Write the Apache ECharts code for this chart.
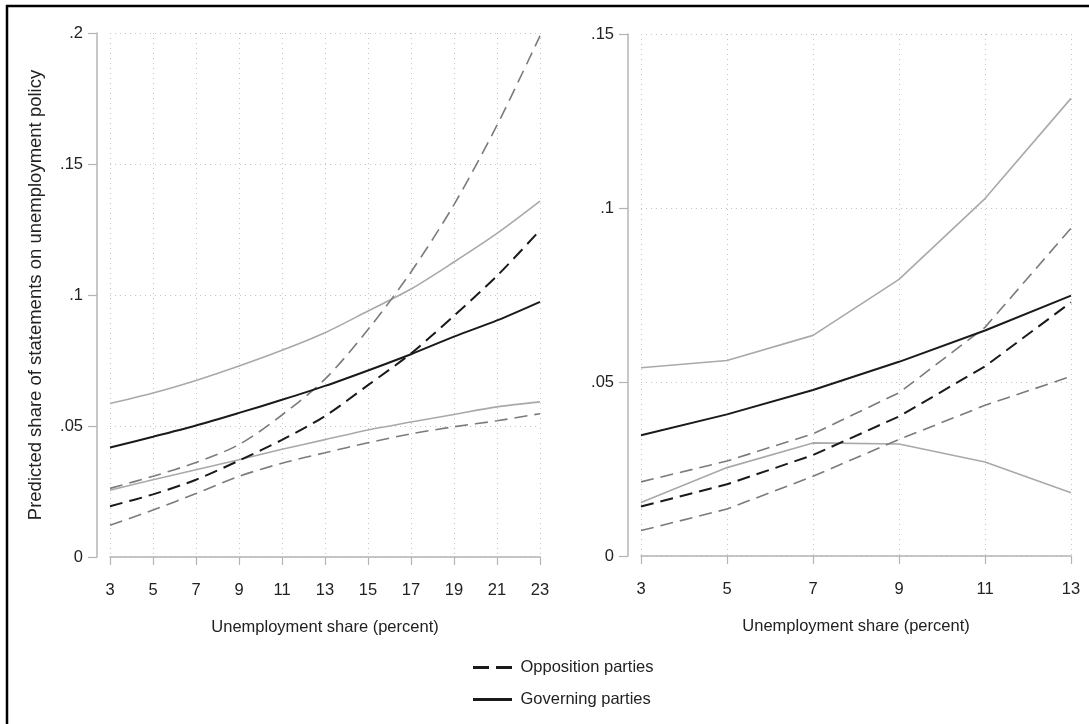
<!DOCTYPE html>
<html>
<head>
<meta charset="utf-8">
<script src="https://cdn.jsdelivr.net/npm/echarts@6/dist/echarts.min.js"></script>
<style>
html,body{margin:0;padding:0;background:#fff;}
#chart{width:1089px;height:724px;}
</style>
</head>
<body>
<div id="chart"></div>
<script>
// ---- Data ----
const xLeft = ['3','5','7','9','11','13','15','17','19','21','23'];
const xRight = ['3','5','7','9','11','13'];

const govEstL = [0.0418, 0.0459, 0.0502, 0.0550, 0.0600, 0.0653, 0.0712, 0.0774, 0.0841, 0.0903, 0.0974];
const govHiL  = [0.0586, 0.0626, 0.0674, 0.0729, 0.0789, 0.0856, 0.0939, 0.1023, 0.1126, 0.1235, 0.1358];
const govLoL  = [0.0255, 0.0295, 0.0333, 0.0371, 0.0411, 0.0448, 0.0485, 0.0515, 0.0544, 0.0573, 0.0592];
const oppEstL = [0.0194, 0.0239, 0.0295, 0.0368, 0.0447, 0.0538, 0.0656, 0.0777, 0.0921, 0.1073, 0.1247];
const oppHiL  = [0.0262, 0.0308, 0.0361, 0.0429, 0.0542, 0.0679, 0.0868, 0.1088, 0.1345, 0.1648, 0.1989];
const oppLoL  = [0.0121, 0.0179, 0.0242, 0.0308, 0.0358, 0.0398, 0.0436, 0.0470, 0.0497, 0.0520, 0.0547];

const govEstR = [0.0347, 0.0407, 0.0477, 0.0558, 0.0648, 0.0748];
const govHiR  = [0.0541, 0.0562, 0.0634, 0.0795, 0.1027, 0.1315];
const govLoR  = [0.0154, 0.0254, 0.0325, 0.0322, 0.0270, 0.0182];
const oppEstR = [0.0142, 0.0206, 0.0290, 0.0401, 0.0545, 0.0729];
const oppHiR  = [0.0213, 0.0273, 0.0351, 0.0469, 0.0657, 0.0942];
const oppLoR  = [0.0073, 0.0135, 0.0229, 0.0335, 0.0433, 0.0516];

const yMaxLeft = 0.2, yMaxRight = 0.15, yStep = 0.05;
const xTitle = 'Unemployment share (percent)';
const yTitle = 'Predicted share of statements on unemployment policy';
const oppName = 'Opposition parties';
const govName = 'Governing parties';

// ---- Styles ----
const FONT = 'Liberation Sans, Arial, Helvetica, sans-serif';
const axisGray = '#b4b4b4';
const gridGray = '#c4c4c4';
const textCol = '#222';
const govCICol = '#a9a9a9';
const oppCICol = '#7b7b7b';
const estCol = '#1a1a1a';

function yFmt(v){
  if (Math.abs(v) < 1e-9) return '0';
  return String(parseFloat(v.toFixed(2))).replace(/^0\./, '.');
}

function xAxisCfg(gi, data){
  return {
    type: 'category', gridIndex: gi, data: data, boundaryGap: false,
    offset: 12,
    axisLine: {show: true, lineStyle: {color: axisGray, width: 1.5}},
    axisTick: {show: true, length: 8, lineStyle: {color: axisGray, width: 1.2}},
    axisLabel: {color: textCol, fontSize: 16.5, fontFamily: FONT, margin: 13},
    splitLine: {show: true, lineStyle: {color: gridGray, type: [1, 4], width: 1}},
    name: xTitle, nameLocation: 'middle', nameGap: 50,
    nameTextStyle: {color: textCol, fontSize: 16.5, fontFamily: FONT}
  };
}
function yAxisCfg(gi, max, withName){
  const cfg = {
    type: 'value', gridIndex: gi, min: 0, max: max, interval: yStep,
    offset: 13,
    axisLine: {show: true, lineStyle: {color: axisGray, width: 1.5}},
    axisTick: {show: true, length: 9, lineStyle: {color: axisGray, width: 1.2}},
    axisLabel: {color: textCol, fontSize: 16.5, fontFamily: FONT, margin: 14, formatter: yFmt},
    splitLine: {show: true, lineStyle: {color: gridGray, type: [1, 4], width: 1}}
  };
  if (withName) {
    cfg.name = yTitle; cfg.nameLocation = 'middle'; cfg.nameGap = 52;
    cfg.nameTextStyle = {color: textCol, fontSize: 18.5, fontFamily: FONT};
  }
  return cfg;
}
function line(name, gi, data, color, width, dashed, smooth, z){
  return {
    type: 'line', name: name, xAxisIndex: gi, yAxisIndex: gi, data: data,
    symbol: 'none', showSymbol: false, smooth: smooth ? 0.3 : false,
    lineStyle: {color: color, width: width, type: dashed ? [13, 7] : 'solid'},
    itemStyle: {color: color},
    emphasis: {disabled: true}, silent: true, z: z, animation: false
  };
}
function legendCfg(name, top, iconPath){
  return {
    orient: 'vertical', left: 468, top: top,
    itemWidth: 40, itemHeight: 3, itemGap: 0,
    textStyle: {color: textCol, fontSize: 16.5, fontFamily: FONT, padding: [0, 0, 0, 3]},
    selectedMode: false,
    data: [{name: name, icon: iconPath, itemStyle: {color: estCol, borderWidth: 0}}]
  };
}

const chart = echarts.init(document.getElementById('chart'), null, {renderer: 'canvas'});
chart.setOption({
  backgroundColor: '#fff',
  animation: false,
  grid: [
    {left: 110, top: 33, width: 430, height: 524},
    {left: 641, top: 34, width: 430, height: 522}
  ],
  xAxis: [xAxisCfg(0, xLeft), xAxisCfg(1, xRight)],
  yAxis: [yAxisCfg(0, yMaxLeft, true), yAxisCfg(1, yMaxRight, false)],
  legend: [
    legendCfg(oppName, 654, 'path://M0,0H16V3H0ZM23,0H39V3H23Z'),
    legendCfg(govName, 686, 'path://M0,0H39V3H0Z')
  ],
  series: [
    line('govHiL', 0, govHiL, govCICol, 1.6, false, true, 2),
    line('govLoL', 0, govLoL, govCICol, 1.6, false, true, 2),
    line('oppHiL', 0, oppHiL, oppCICol, 1.6, true, true, 3),
    line('oppLoL', 0, oppLoL, oppCICol, 1.6, true, true, 3),
    line(govName, 0, govEstL, estCol, 2, false, true, 5),
    line(oppName, 0, oppEstL, estCol, 2, true, true, 5),
    line('govHiR', 1, govHiR, govCICol, 1.6, false, false, 2),
    line('govLoR', 1, govLoR, govCICol, 1.6, false, false, 2),
    line('oppHiR', 1, oppHiR, oppCICol, 1.6, true, false, 3),
    line('oppLoR', 1, oppLoR, oppCICol, 1.6, true, false, 3),
    line(govName, 1, govEstR, estCol, 2, false, false, 5),
    line(oppName, 1, oppEstR, estCol, 2, true, false, 5)
  ],
  graphic: [
    {type: 'line', shape: {x1: 6, y1: 6, x2: 1089, y2: 6}, style: {stroke: '#000', lineWidth: 2.5}, silent: true},
    {type: 'line', shape: {x1: 7, y1: 5, x2: 7, y2: 724}, style: {stroke: '#000', lineWidth: 2.5}, silent: true}
  ]
});
</script>
</body>
</html>
